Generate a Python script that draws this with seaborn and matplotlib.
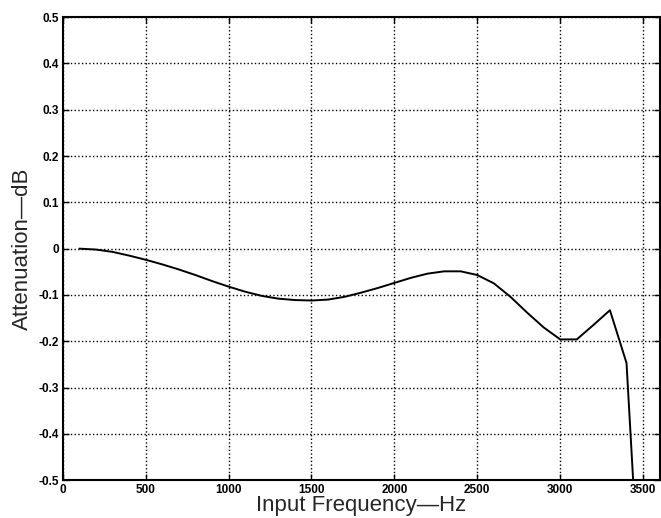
import numpy as np
import pandas as pd
import seaborn as sns
import matplotlib.pyplot as plt

# Attenuation curve
freq_hz = [100, 200, 300, 400, 500, 600, 700, 800, 900, 1000,
           1100, 1200, 1300, 1400, 1500, 1600, 1700, 1800, 1900, 2000,
           2100, 2200, 2300, 2400, 2500, 2600, 2700, 2800, 2900, 3000,
           3100, 3200, 3300, 3400, 3440]
atten_db = [0.0, -0.002, -0.007, -0.015, -0.024, -0.034, -0.045, -0.057, -0.070, -0.082,
            -0.093, -0.102, -0.108, -0.111, -0.112, -0.110, -0.104, -0.095, -0.085, -0.074,
            -0.063, -0.054, -0.049, -0.049, -0.057, -0.075, -0.104, -0.138, -0.170, -0.196,
            -0.196, -0.165, -0.133, -0.247, -0.5]

x_ticks = [0, 500, 1000, 1500, 2000, 2500, 3000, 3500]
y_ticks = [-0.5, -0.4, -0.3, -0.2, -0.1, 0, 0.1, 0.2, 0.3, 0.4, 0.5]
y_tick_labels = ['-0.5', '-0.4', '-0.3', '-0.2', '-0.1', '0', '0.1', '0.2', '0.3', '0.4', '0.5']

df = pd.DataFrame({'freq': freq_hz, 'atten': atten_db})

sns.set_style("ticks")
plt.rcParams['font.family'] = ['Liberation Sans', 'DejaVu Sans']

fig = plt.figure(figsize=(6.61, 5.18), dpi=100)
ax = fig.add_axes([0.095, 0.073, 0.903, 0.894])

sns.lineplot(data=df, x='freq', y='atten', color='black', linewidth=1.4, ax=ax)

ax.set_xlim(0, 3600)
ax.set_ylim(-0.5, 0.5)
ax.set_xticks(x_ticks)
ax.set_yticks(y_ticks)
ax.set_yticklabels(y_tick_labels)
ax.grid(True, linestyle=':', color='black', linewidth=1.0)
for s in ax.spines.values():
    s.set_visible(True)
    s.set_color('black')
    s.set_linewidth(1.5)
ax.tick_params(direction='in', top=True, right=True, length=4, width=1.0,
               labelsize=8.5, colors='black', pad=3)
for lbl in ax.get_xticklabels() + ax.get_yticklabels():
    lbl.set_fontweight('bold')

ax.set_xlabel('Input Frequency\u2014Hz', fontsize=16, labelpad=-1)
ax.set_ylabel('Attenuation\u2014dB', fontsize=16, labelpad=4)

plt.savefig('out.png', dpi=100)
